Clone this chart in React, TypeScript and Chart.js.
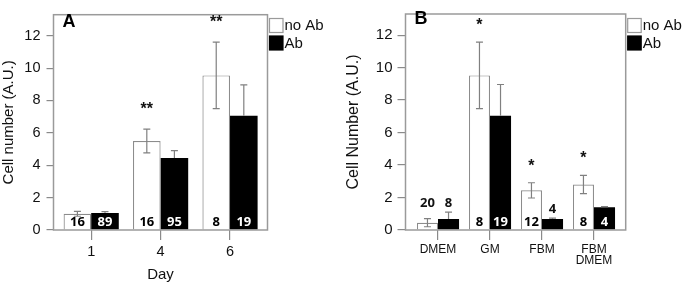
import { useEffect, useRef } from 'react';
import { Chart, registerables } from 'chart.js';

Chart.register(...registerables);

// ---------- Panel A data (by day) ----------
const dayLabels: (string | string[])[] = ['1', '4', '6'];
const noAbDay = [1.0, 5.5, 9.55];
const noAbDayErr = [0.15, 0.73, 2.05];
const abDay = [1.05, 4.45, 7.05];
const abDayErr = [0.08, 0.45, 1.92];
const nNoAbDay = ['16', '16', '8'];
const nAbDay = ['89', '95', '19'];
const starsDay = ['', '**', '**'];

// ---------- Panel B data (by medium) ----------
const mediaLabels: (string | string[])[] = ['DMEM', 'GM', 'FBM', ['FBM', 'DMEM']];
const noAbMedia = [0.45, 9.52, 2.44, 2.8];
const noAbMediaErr = [0.25, 2.05, 0.47, 0.56];
const abMedia = [0.68, 7.03, 0.68, 1.4];
const abMediaErr = [0.42, 1.93, 0.05, 0.04];
const nNoAbMedia = ['20', '8', '12', '8'];
const nAbMedia = ['8', '19', '4', '4'];
const starsMedia = ['', '*', '*', '*'];

const yTickValues = [0, 2, 4, 6, 8, 10, 12];
const seriesNames = ['no Ab', 'Ab'];

const SANS = '"Liberation Sans", Arial, Helvetica, sans-serif';
const NUMFONT = '"Open Sans", "Noto Sans", sans-serif';
const GRAY = '#9a9a9a';
const TEXT = '#111';

type PanelSpec = {
  letter: string;
  letterY: number;
  labels: (string | string[])[];
  noAb: number[];
  noAbErr: number[];
  ab: number[];
  abErr: number[];
  nNoAb: string[];
  nAb: string[];
  stars: string[];
  starLift: number;
  xMin: number;
  xMax: number;
  yAxisWidth: number;
  rightPad: number;
  yTitle: string;
  yTitleSize: number;
  yTitlePadTop: number;
  yTickSize: number;
  yTickLen: number;
  yTickPad: number;
  xTitle: string;
  xTickSize: number;
  xTickLineHeight: number;
  xTickPad: number;
  barFrac: number;
  width: number;
};

function makeOverlay(spec: PanelSpec) {
  return {
    id: 'overlay' + spec.letter,
    afterDatasetsDraw(chart: any) {
      const ctx: CanvasRenderingContext2D = chart.ctx;
      const ys = chart.scales.y;
      const area = chart.chartArea;
      const m0 = chart.getDatasetMeta(0);
      const m1 = chart.getDatasetMeta(1);
      ctx.save();

      // plot frame
      ctx.strokeStyle = GRAY;
      ctx.lineWidth = 1.5;
      ctx.strokeRect(area.left, area.top, area.right - area.left, area.bottom - area.top);

      const errBar = (x: number, top: number, bottom: number) => {
        ctx.strokeStyle = '#808080';
        ctx.lineWidth = 1.2;
        ctx.beginPath();
        ctx.moveTo(x, top);
        ctx.lineTo(x, bottom);
        ctx.moveTo(x - 3.5, top);
        ctx.lineTo(x + 3.5, top);
        ctx.moveTo(x - 3.5, bottom);
        ctx.lineTo(x + 3.5, bottom);
        ctx.stroke();
      };

      for (let i = 0; i < spec.noAb.length; i++) {
        const b0 = m0.data[i];
        const b1 = m1.data[i];
        const v0 = spec.noAb[i], e0 = spec.noAbErr[i];
        const v1 = spec.ab[i], e1 = spec.abErr[i];
        errBar(b0.x, ys.getPixelForValue(v0 + e0), ys.getPixelForValue(v0 - e0));
        // upward half for filled bars (lower half hidden in the black bar)
        ctx.strokeStyle = '#808080';
        ctx.lineWidth = 1.2;
        const t1 = ys.getPixelForValue(v1 + e1);
        ctx.beginPath();
        ctx.moveTo(b1.x, t1);
        ctx.lineTo(b1.x, b1.y);
        ctx.moveTo(b1.x - 3.5, t1);
        ctx.lineTo(b1.x + 3.5, t1);
        ctx.stroke();

        // counts
        const base = ys.getPixelForValue(0);
        const inside0 = v0 >= 0.9;
        const inside1 = v1 >= 0.9;
        const aboveTops: number[] = [];
        if (!inside0) aboveTops.push(v0 + e0);
        if (!inside1) aboveTops.push(v1 + e1);
        const aboveY = aboveTops.length ? ys.getPixelForValue(Math.max(...aboveTops)) - 9 : 0;
        ctx.font = `bold 13px ${NUMFONT}`;
        ctx.textAlign = 'center';
        ctx.textBaseline = 'middle';
        ctx.fillStyle = inside0 ? '#000' : TEXT;
        ctx.fillText(spec.nNoAb[i], b0.x, inside0 ? base - 8 : aboveY);
        ctx.fillStyle = inside1 ? '#fff' : TEXT;
        ctx.fillText(spec.nAb[i], b1.x, inside1 ? base - 8 : aboveY);

        // significance stars
        if (spec.stars[i]) {
          ctx.font = `bold 16px ${SANS}`;
          ctx.fillStyle = TEXT;
          ctx.textBaseline = 'alphabetic';
          ctx.fillText(spec.stars[i], b0.x, ys.getPixelForValue(v0 + e0) - spec.starLift);
        }
      }

      // panel letter
      ctx.font = `bold 18px ${SANS}`;
      ctx.fillStyle = '#000';
      ctx.textAlign = 'left';
      ctx.textBaseline = 'alphabetic';
      ctx.fillText(spec.letter, area.left + 9, spec.letterY);

      // legend
      const lx = area.right + 2;
      const ds = chart.data.datasets;
      ctx.font = `15px ${SANS}`;
      ctx.textBaseline = 'middle';
      for (let k = 0; k < ds.length; k++) {
        const y0 = k === 0 ? 18.5 : 36;
        ctx.fillStyle = ds[k].backgroundColor;
        ctx.fillRect(lx, y0, 13.5, 14);
        ctx.strokeStyle = k === 0 ? GRAY : '#000';
        ctx.lineWidth = 1.2;
        ctx.strokeRect(lx, y0, 13.5, 14);
        ctx.fillStyle = TEXT;
        ctx.fillText(ds[k].label, lx + 15, y0 + 7.5);
      }
      ctx.restore();
    },
  };
}

function Panel({ spec, left }: { spec: PanelSpec; left: number }) {
  const ref = useRef<HTMLCanvasElement | null>(null);
  useEffect(() => {
    if (!ref.current) return;
    const chart = new Chart(ref.current, {
      type: 'bar',
      data: {
        datasets: [
          {
            label: seriesNames[0],
            data: spec.noAb.map((v, i) => ({ x: i, y: v })),
            backgroundColor: '#ffffff',
            borderColor: '#8c8c8c',
            borderWidth: 1.2,
            categoryPercentage: spec.barFrac,
            barPercentage: 1,
          },
          {
            label: seriesNames[1],
            data: spec.ab.map((v, i) => ({ x: i, y: v })),
            backgroundColor: '#000000',
            borderColor: '#000000',
            borderWidth: 0,
            categoryPercentage: spec.barFrac,
            barPercentage: 1,
          },
        ],
      } as any,
      options: {
        animation: false,
        responsive: false,
        maintainAspectRatio: false,
        events: [],
        layout: { padding: { left: 0, top: 2.5, right: spec.rightPad, bottom: 0 } },
        plugins: { legend: { display: false }, tooltip: { enabled: false } },
        scales: {
          x: {
            type: 'linear',
            offset: false,
            min: spec.xMin,
            max: spec.xMax,
            afterBuildTicks: (s: any) => {
              s.ticks = spec.labels.map((_, i) => ({ value: i }));
            },
            afterFit: (s: any) => {
              s.height = 55;
            },
            ticks: {
              autoSkip: false,
              maxRotation: 0,
              minRotation: 0,
              padding: spec.xTickPad,
              color: TEXT,
              font: { family: SANS, size: spec.xTickSize, lineHeight: spec.xTickLineHeight },
              callback: (_v: any, i: number) => spec.labels[i],
            },
            grid: {
              offset: false,
              drawOnChartArea: false,
              drawTicks: true,
              tickLength: 10,
              color: '#8a8a8a',
              lineWidth: 1.2,
            },
            border: { display: false },
            title: {
              display: !!spec.xTitle,
              text: spec.xTitle,
              color: TEXT,
              font: { family: SANS, size: 15 },
              padding: { top: 0, bottom: 1 },
            },
          },
          y: {
            min: 0,
            max: 13.3,
            afterBuildTicks: (s: any) => {
              s.ticks = yTickValues.map((v) => ({ value: v }));
            },
            afterFit: (s: any) => {
              s.width = spec.yAxisWidth;
            },
            ticks: {
              padding: spec.yTickPad,
              color: TEXT,
              font: { family: SANS, size: spec.yTickSize },
            },
            grid: {
              drawOnChartArea: false,
              drawTicks: true,
              tickLength: spec.yTickLen,
              color: '#8a8a8a',
              lineWidth: 1.2,
            },
            border: { display: false },
            title: {
              display: true,
              text: spec.yTitle,
              color: TEXT,
              font: { family: SANS, size: spec.yTitleSize },
              padding: { top: spec.yTitlePadTop, bottom: 0 },
            },
          },
        },
      } as any,
      plugins: [makeOverlay(spec) as any],
    });
    return () => chart.destroy();
  }, [spec]);
  return (
    <canvas
      ref={ref}
      width={spec.width}
      height={285}
      style={{ position: 'absolute', left, top: 0, width: spec.width, height: 285 }}
    />
  );
}

const specA: PanelSpec = {
  letter: 'A',
  letterY: 26.5,
  labels: dayLabels,
  noAb: noAbDay,
  noAbErr: noAbDayErr,
  ab: abDay,
  abErr: abDayErr,
  nNoAb: nNoAbDay,
  nAb: nAbDay,
  stars: starsDay,
  starLift: 15,
  xMin: -0.543,
  xMax: 2.54,
  yAxisWidth: 53.5,
  rightPad: 72.5,
  yTitle: 'Cell number (A.U.)',
  yTitleSize: 15,
  yTitlePadTop: 0,
  yTickSize: 14.5,
  yTickLen: 7,
  yTickPad: 6,
  xTitle: 'Day',
  xTickSize: 14.5,
  xTickLineHeight: 1.2,
  xTickPad: 3,
  barFrac: 0.795,
  width: 340,
};

const specB: PanelSpec = {
  letter: 'B',
  letterY: 23.5,
  labels: mediaLabels,
  noAb: noAbMedia,
  noAbErr: noAbMediaErr,
  ab: abMedia,
  abErr: abMediaErr,
  nNoAb: nNoAbMedia,
  nAb: nAbMedia,
  stars: starsMedia,
  starLift: 12,
  xMin: -0.625,
  xMax: 3.61,
  yAxisWidth: 65.5,
  rightPad: 59.3,
  yTitle: 'Cell Number (A.U.)',
  yTitleSize: 16,
  yTitlePadTop: 4,
  yTickSize: 15,
  yTickLen: 8,
  yTickPad: 5,
  xTitle: '',
  xTickSize: 12,
  xTickLineHeight: 0.9,
  xTickPad: 4.5,
  barFrac: 0.81,
  width: 345,
};

export default function App() {
  return (
    <div style={{ position: 'absolute', left: 0, top: 0, width: 685, height: 285, background: '#fff' }}>
      <Panel spec={specA} left={0} />
      <Panel spec={specB} left={340} />
    </div>
  );
}
